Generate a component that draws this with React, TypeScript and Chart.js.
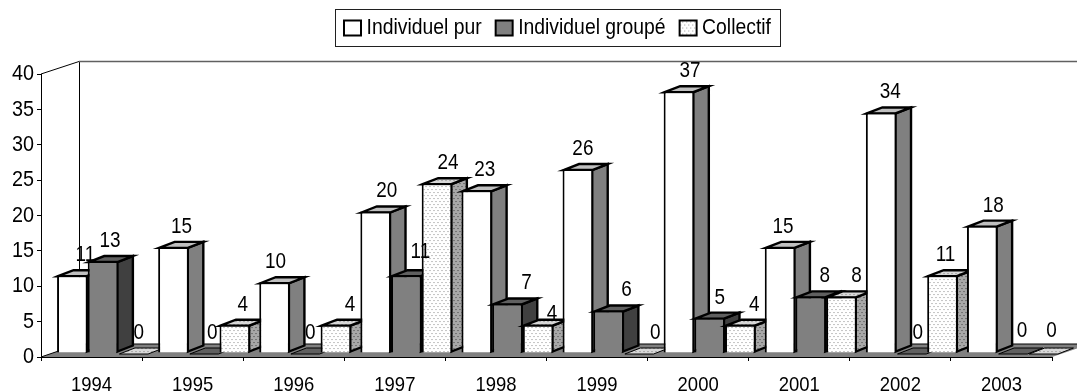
import React, { useEffect, useRef } from "react";
import { Chart, registerables } from "chart.js";

Chart.register(...registerables);

const years = ["1994", "1995", "1996", "1997", "1998", "1999", "2000", "2001", "2002", "2003"];
const individuelPur = [11, 15, 10, 20, 23, 26, 37, 15, 34, 18];
const individuelGroupe = [13, 0, 0, 11, 7, 6, 5, 8, 0, 0];
const collectif = [0, 4, 4, 24, 4, 0, 4, 8, 11, 0];

// small hand-placed shifts of the value labels, as in the source chart
const labelShiftX = [
  [5, 0, -7, 3, 0, -3, 3, -5, 1, 3],
  [-1, 0, -3, 6, 11, 10, 2, 6, -2, 1],
  [-3, 0, 6, 3, 6, 8, 6, 7, -5, 0],
];
const labelShiftY = [
  [0, 0, 0, 0, 0, 0, 0, 0, 0, 0],
  [0, 0, 0, -3, 0, 0, 0, 0, 0, -2],
  [0, 0, 0, 0, 9, 0, 0, 0, 0, -2],
];

const FONT = '"Liberation Sans", Arial, sans-serif';
const TEXT_SQUEEZE = 0.88;
const BAR_DX = 11.5, BAR_DY = -4, DEPTH_X = 15.5, DEPTH_Y = 6, WALL_DX = 38, WALL_DY = 13;

function dots(bg: string, dot: string) {
  const c = document.createElement("canvas");
  c.width = 4; c.height = 6;
  const g = c.getContext("2d")!;
  g.fillStyle = bg; g.fillRect(0, 0, 4, 6);
  g.fillStyle = dot; g.fillRect(0, 1, 1, 1); g.fillRect(2, 4, 1, 1);
  return g.createPattern(c, "repeat")!;
}

export default function App() {
  const ref = useRef<HTMLCanvasElement>(null);
  useEffect(() => {
    const canvas = ref.current!;
    // the source chart's text is horizontally condensed
    const c2d: any = canvas.getContext("2d")!;
    let textShiftX = 0;
    const origFill = c2d.fillText.bind(c2d);
    const origMeasure = c2d.measureText.bind(c2d);
    c2d.fillText = (t: string, x: number, y: number) => {
      c2d.save();
      c2d.translate(x + textShiftX, y);
      c2d.scale(TEXT_SQUEEZE, 1);
      origFill(t, 0, 0);
      c2d.restore();
    };
    c2d.measureText = (t: string) => {
      const m = origMeasure(t);
      return { width: m.width * TEXT_SQUEEZE, actualBoundingBoxAscent: m.actualBoundingBoxAscent, actualBoundingBoxDescent: m.actualBoundingBoxDescent };
    };

    const styles = [
      { side: "#808080", top: "#c0c0c0" },
      { side: "#404040", top: "#606060" },
      { side: dots("#a8a8a8", "#404040"), top: dots("#d8d8d8", "#808080") },
    ];
    const chart3d = {
      id: "chart3d",
      beforeLayout(chart: any) {
        const lg = chart.legend;
        if (!lg || lg.__wrapped) return;
        lg.__wrapped = true;
        const fit = lg.fit;
        lg.fit = function () { fit.call(this); this.height = 74; };
        const draw = lg.draw;
        lg.draw = function () {
          const ctx = chart.ctx;
          ctx.save();
          ctx.strokeStyle = "#202020"; ctx.lineWidth = 1;
          ctx.strokeRect(335.5, 9.5, 445, 37);
          ctx.translate(344 - this.legendHitBoxes[0].left, 28 - (this.legendHitBoxes[0].top + this.legendHitBoxes[0].height / 2));
          textShiftX = -5.5;
          draw.call(this);
          textShiftX = 0;
          ctx.restore();
        };
      },
      beforeDatasetsDraw(chart: any) {
        const { ctx, chartArea: a } = chart;
        ctx.save();
        ctx.lineWidth = 1; ctx.strokeStyle = "#000"; ctx.fillStyle = "#808080";
        ctx.beginPath();
        ctx.moveTo(a.left, a.bottom); ctx.lineTo(a.right, a.bottom);
        ctx.lineTo(a.right + WALL_DX, a.bottom - WALL_DY); ctx.lineTo(a.left + WALL_DX, a.bottom - WALL_DY);
        ctx.closePath(); ctx.fill();
        ctx.beginPath();
        ctx.moveTo(a.left, a.top);
        ctx.lineTo(a.left + WALL_DX, a.top - WALL_DY + 0.5);
        ctx.moveTo(a.left + WALL_DX + 0.5, a.top - WALL_DY);
        ctx.lineTo(a.left + WALL_DX + 0.5, a.bottom - WALL_DY);
        ctx.moveTo(a.left, a.bottom); ctx.lineTo(a.left + WALL_DX, a.bottom - WALL_DY);
        ctx.lineTo(a.right + WALL_DX, a.bottom - WALL_DY);
        ctx.stroke();
        ctx.strokeStyle = "#606060"; ctx.lineWidth = 1.5;
        ctx.beginPath(); ctx.moveTo(a.left + WALL_DX, a.top - WALL_DY + 0.5); ctx.lineTo(chart.width, a.top - WALL_DY + 0.5); ctx.stroke();
        ctx.restore();

        ctx.save();
        ctx.translate(BAR_DX, BAR_DY);
        ctx.lineJoin = "miter";
        for (let i = 0; i < years.length; i++) {
          for (let d = 0; d < chart.data.datasets.length; d++) {
            const el = chart.getDatasetMeta(d).data[i];
            const p = el.getProps(["x", "y", "base", "width"], true);
            const l = p.x - p.width / 2, r = p.x + p.width / 2;
            ctx.strokeStyle = "#000"; ctx.lineWidth = 2.4;
            if (p.base - p.y > 0) {
              ctx.fillStyle = styles[d].side;
              ctx.beginPath();
              ctx.moveTo(r - 1, p.y + 1); ctx.lineTo(r - 1 + DEPTH_X, p.y + 1 - DEPTH_Y);
              ctx.lineTo(r - 1 + DEPTH_X, p.base - 1 - DEPTH_Y); ctx.lineTo(r - 1, p.base - 1);
              ctx.closePath(); ctx.fill(); ctx.stroke();
            }
            const tx0 = l + 1, tx1 = r - 1, ty = p.y + 1;
            ctx.fillStyle = styles[d].top;
            ctx.beginPath();
            ctx.moveTo(tx0, ty); ctx.lineTo(tx0 + DEPTH_X, ty - DEPTH_Y);
            ctx.lineTo(tx1 + DEPTH_X, ty - DEPTH_Y); ctx.lineTo(tx1, ty);
            ctx.closePath(); ctx.fill();
            if (p.base - p.y > 0) ctx.stroke();
            else { ctx.lineWidth = 1; ctx.stroke(); }
            el.draw(ctx, a);
          }
        }
        ctx.restore();
        return false;
      },
      afterDraw(chart: any) {
        const { ctx } = chart;
        ctx.save();
        ctx.font = `21.5px ${FONT}`;
        ctx.fillStyle = "#000"; ctx.textAlign = "center"; ctx.textBaseline = "middle";
        chart.data.datasets.forEach((ds: any, d: number) => {
          chart.getDatasetMeta(d).data.forEach((el: any, i: number) => {
            ctx.fillText(String(ds.data[i]), el.x + 19.5 + labelShiftX[d][i], el.y - 24 + labelShiftY[d][i]);
          });
        });
        ctx.restore();
      },
    };

    const chart = new Chart(canvas, {
      type: "bar",
      data: {
        labels: years,
        datasets: [
          { label: "Individuel pur", data: individuelPur, backgroundColor: "#ffffff" },
          { label: "Individuel groupé", data: individuelGroupe, backgroundColor: "#808080" },
          { label: "Collectif", data: collectif, backgroundColor: dots("#ffffff", "#909090") },
        ].map((d) => ({ ...d, borderColor: "#000000", borderWidth: 2, categoryPercentage: 0.91, barPercentage: 1 })),
      },
      plugins: [chart3d as any],
      options: {
        responsive: false,
        animation: false,
        layout: { padding: { top: 0, right: 25, left: 0, bottom: 0 } },
        plugins: {
          tooltip: { enabled: false },
          legend: {
            position: "top",
            labels: { boxWidth: 17, boxHeight: 15, padding: 8.5, color: "#000", font: { family: FONT, size: 22 } },
          },
        },
        scales: {
          x: {
            afterFit: (s: any) => { s.height = 34; },
            grid: { display: true, drawOnChartArea: false, drawTicks: true, tickLength: 4, color: "#000" },
            border: { color: "#000" },
            ticks: { color: "#000", padding: 12, maxRotation: 0, autoSkip: false, font: { family: FONT, size: 21 } },
          },
          y: {
            min: 0, max: 40,
            afterFit: (s: any) => { s.width = 41; },
            grid: { display: true, drawOnChartArea: false, drawTicks: true, tickLength: 4, color: "#000" },
            border: { color: "#000" },
            ticks: { color: "#000", stepSize: 5, padding: 3, font: { family: FONT, size: 22.5 } },
          },
        },
      },
    } as any);
    return () => chart.destroy();
  }, []);
  return (
    <div style={{ position: "absolute", left: 0, top: 0, width: 1077, height: 391 }}>
      <canvas ref={ref} width={1077} height={391} style={{ display: "block" }} />
    </div>
  );
}
